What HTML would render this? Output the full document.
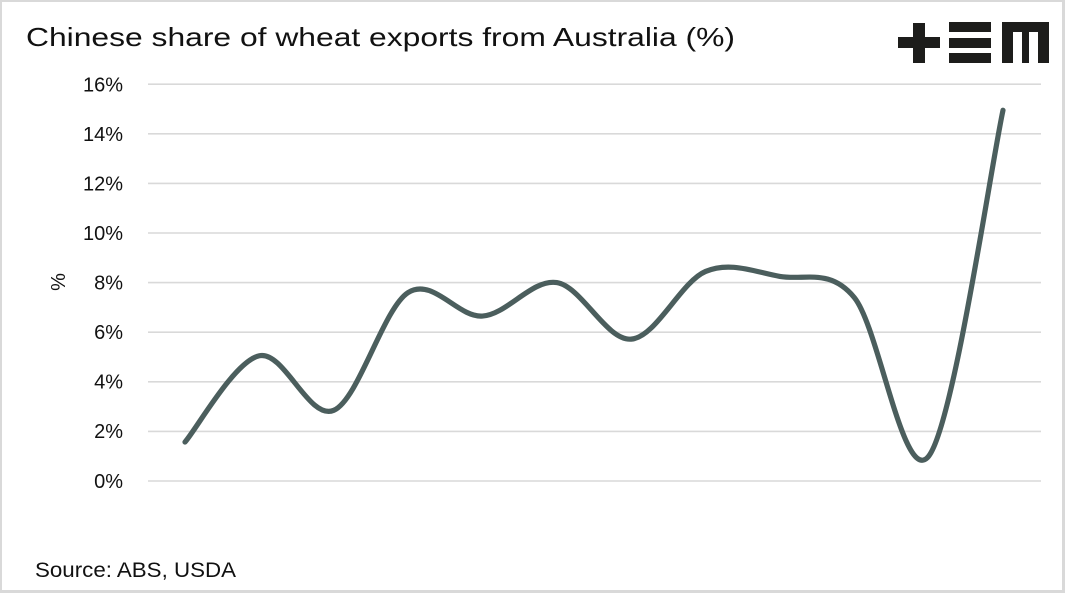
<!DOCTYPE html>
<html>
<head>
<meta charset="utf-8">
<style>
  html, body { margin: 0; padding: 0; background: #ffffff; }
  svg { display: block; }
  text { font-family: "Liberation Sans", "DejaVu Sans", sans-serif; fill: #111111; }
</style>
</head>
<body>
<svg width="1065" height="593" viewBox="0 0 1065 593" xmlns="http://www.w3.org/2000/svg">
  <rect x="0" y="0" width="1065" height="593" fill="#ffffff"/>
  <!-- border -->
  <rect x="0" y="0" width="1065" height="2" fill="#d9d9d9"/>
  <rect x="0" y="0" width="2" height="593" fill="#d9d9d9"/>
  <rect x="1062" y="0" width="3" height="593" fill="#d9d9d9"/>
  <rect x="0" y="590" width="1065" height="3" fill="#d9d9d9"/>

  <!-- title -->
  <text x="26" y="46" font-size="26" textLength="709" lengthAdjust="spacingAndGlyphs">Chinese share of wheat exports from Australia (%)</text>

  <!-- logo -->
  <g fill="#1d1d1b">
    <rect x="898" y="37" width="42" height="11"/>
    <rect x="913" y="23" width="12" height="40"/>
    <rect x="949" y="22" width="42" height="10"/>
    <rect x="949" y="38" width="42" height="10"/>
    <rect x="949" y="53" width="42" height="10"/>
    <path d="M1002 22 H1049 V63 H1038 V32 H1029 V63 H1022 V32 H1013 V63 H1002 Z"/>
  </g>

  <!-- gridlines -->
  <g stroke="#d9d9d9" stroke-width="1.6">
    <line x1="148" y1="84.2" x2="1041" y2="84.2"/>
    <line x1="148" y1="133.8" x2="1041" y2="133.8"/>
    <line x1="148" y1="183.4" x2="1041" y2="183.4"/>
    <line x1="148" y1="233" x2="1041" y2="233"/>
    <line x1="148" y1="282.6" x2="1041" y2="282.6"/>
    <line x1="148" y1="332.2" x2="1041" y2="332.2"/>
    <line x1="148" y1="381.8" x2="1041" y2="381.8"/>
    <line x1="148" y1="431.4" x2="1041" y2="431.4"/>
    <line x1="148" y1="481" x2="1041" y2="481"/>
  </g>

  <!-- y tick labels -->
  <g font-size="20" text-anchor="end">
    <text x="123" y="91.5">16%</text>
    <text x="123" y="141">14%</text>
    <text x="123" y="190.5">12%</text>
    <text x="123" y="240">10%</text>
    <text x="123" y="289.5">8%</text>
    <text x="123" y="339">6%</text>
    <text x="123" y="388.5">4%</text>
    <text x="123" y="438">2%</text>
    <text x="123" y="488">0%</text>
  </g>

  <!-- y axis title -->
  <text x="0" y="0" font-size="20" text-anchor="middle" transform="translate(65,282) rotate(-90)">%</text>

  <!-- series -->
  <path fill="none" stroke="#4b5e5d" stroke-width="5.2" stroke-linecap="round" stroke-linejoin="round"
    d="M185,442.06
       C197.39,427.68 234.57,361.05 259.36,355.76
       C284.15,350.47 308.94,420.86 333.73,410.32
       C358.52,399.78 383.30,308.23 408.09,292.52
       C432.88,276.81 457.66,317.73 482.45,316.08
       C507.24,314.43 532.03,278.76 556.82,282.6
       C581.61,286.44 606.39,341.0 631.18,339.14
       C655.97,337.28 680.76,281.90 705.55,271.44
       C730.34,260.98 755.12,272.06 779.91,276.4
       C804.70,280.74 829.48,267.51 854.27,297.48
       C879.06,327.45 903.85,487.41 928.64,456.2
       C953.43,424.99 990.61,167.90 1003,110.24"/>

  <!-- source -->
  <text x="35" y="577" font-size="21" textLength="201" lengthAdjust="spacingAndGlyphs">Source: ABS, USDA</text>
</svg>
</body>
</html>
